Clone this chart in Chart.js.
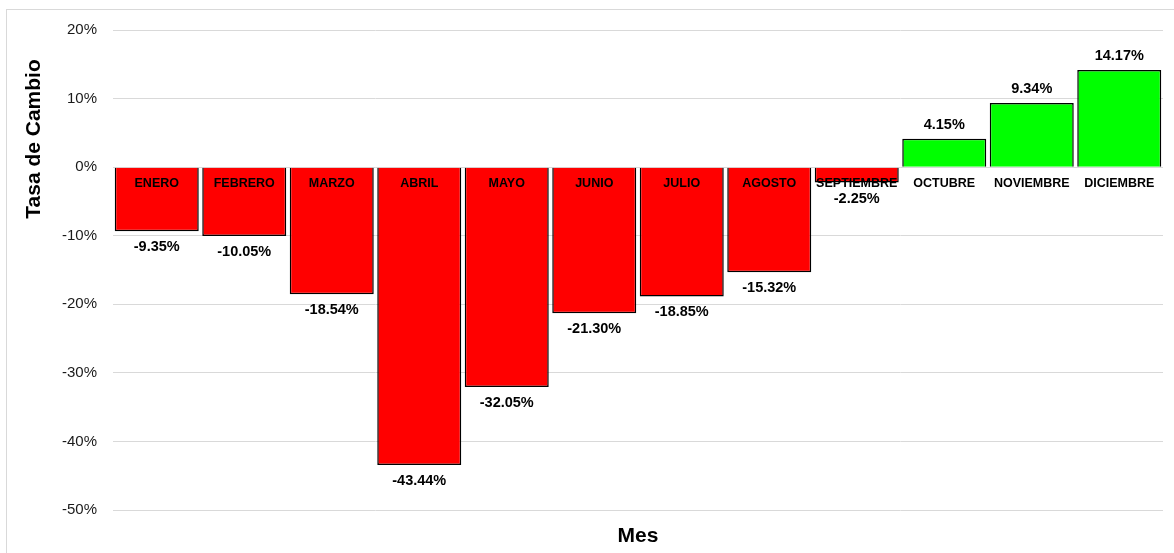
<!DOCTYPE html>
<html>
<head>
<meta charset="utf-8">
<script src="https://cdn.jsdelivr.net/npm/chart.js@4"></script>
<style>
  html, body { margin: 0; padding: 0; background: #fff; }
  #wrap { width: 1174px; height: 553px; position: relative; }
</style>
</head>
<body>
<div id="wrap"><canvas id="chart"></canvas></div>
<script>
let meses = ['ENERO', 'FEBRERO', 'MARZO', 'ABRIL', 'MAYO', 'JUNIO', 'JULIO', 'AGOSTO', 'SEPTIEMBRE', 'OCTUBRE', 'NOVIEMBRE', 'DICIEMBRE'];
let tasas = [-9.35, -10.05, -18.54, -43.44, -32.05, -21.30, -18.85, -15.32, -2.25, 4.15, 9.34, 14.17];
let yMin = -50;
let yMax = 20;
let yStep = 10;

const fuente = "'Liberation Sans', Arial, sans-serif";

// colores segun signo
let colores = tasas.map(v => v < 0 ? '#ff0000' : '#00ff00');

// marco exterior y titulo del eje Y (va arriba, no centrado)
const marco = {
    id: 'marco',
    beforeDraw(chart) {
        const ctx = chart.ctx;
        ctx.save();
        ctx.strokeStyle = '#d9d9d9';
        ctx.lineWidth = 1;
        ctx.strokeRect(6.5, 9.5, 1180, 600);
        ctx.translate(34, 139);
        ctx.rotate(-Math.PI / 2);
        ctx.font = 'bold 21px ' + fuente;
        ctx.fillStyle = '#000';
        ctx.textAlign = 'center';
        ctx.textBaseline = 'middle';
        ctx.fillText('Tasa de Cambio', 0, 0);
        ctx.restore();
    }
};

// etiquetas de valores
const etiquetas = {
    id: 'etiquetas',
    afterDatasetsDraw(chart) {
        const ctx = chart.ctx;
        const meta = chart.getDatasetMeta(0);
        ctx.save();
        ctx.font = 'bold 14.5px ' + fuente;
        ctx.fillStyle = '#000';
        ctx.textAlign = 'center';
        ctx.textBaseline = 'middle';
        meta.data.forEach((bar, i) => {
            let v = tasas[i];
            let y = v < 0 ? bar.y + 16 : bar.y - 14;
            ctx.fillText(v.toFixed(2) + '%', bar.x, y);
        });
        ctx.restore();
    }
};

let ctx = document.getElementById('chart').getContext('2d');
let chart = new Chart(ctx, {
    type: 'bar',
    data: {
        labels: meses,
        datasets: [{
            label: 'Tasa de Cambio',
            data: tasas,
            backgroundColor: colores,
            borderColor: '#000',
            borderWidth: 1.5,
            barPercentage: 0.96,
            categoryPercentage: 1.0
        }]
    },
    options: {
        responsive: true,
        maintainAspectRatio: false,
        animation: false,
        layout: {
            padding: { top: 30, right: 11, left: 0, bottom: 0 }
        },
        plugins: {
            legend: { display: false },
            tooltip: { enabled: false }
        },
        scales: {
            x: {
                position: { y: 0 },
                grid: { display: false },
                border: { display: false },
                ticks: {
                    z: 1, // nombres de mes encima de las barras
                    autoSkip: false,
                    maxRotation: 0,
                    padding: 1,
                    color: '#000',
                    font: { family: fuente, size: 12.5, weight: 'bold' }
                }
            },
            x2: {
                type: 'category',
                labels: meses,
                position: 'bottom',
                grid: { display: false },
                border: { display: false },
                ticks: { display: false },
                title: {
                    display: true,
                    text: 'Mes',
                    color: '#000',
                    font: { family: fuente, size: 21, weight: 'bold' },
                    padding: { top: 4, bottom: 4 }
                },
                afterFit: s => { s.height = 43; }
            },
            y: {
                min: yMin,
                max: yMax,
                ticks: {
                    stepSize: yStep,
                    padding: 16,
                    color: '#1a1a1a',
                    font: { family: fuente, size: 15 },
                    callback: v => v + '%'
                },
                grid: { color: '#d9d9d9', drawTicks: false, lineWidth: 1 },
                border: { display: false },
                afterFit: s => { s.width = 113; }
            }
        }
    },
    plugins: [marco, etiquetas]
});
</script>
</body>
</html>
